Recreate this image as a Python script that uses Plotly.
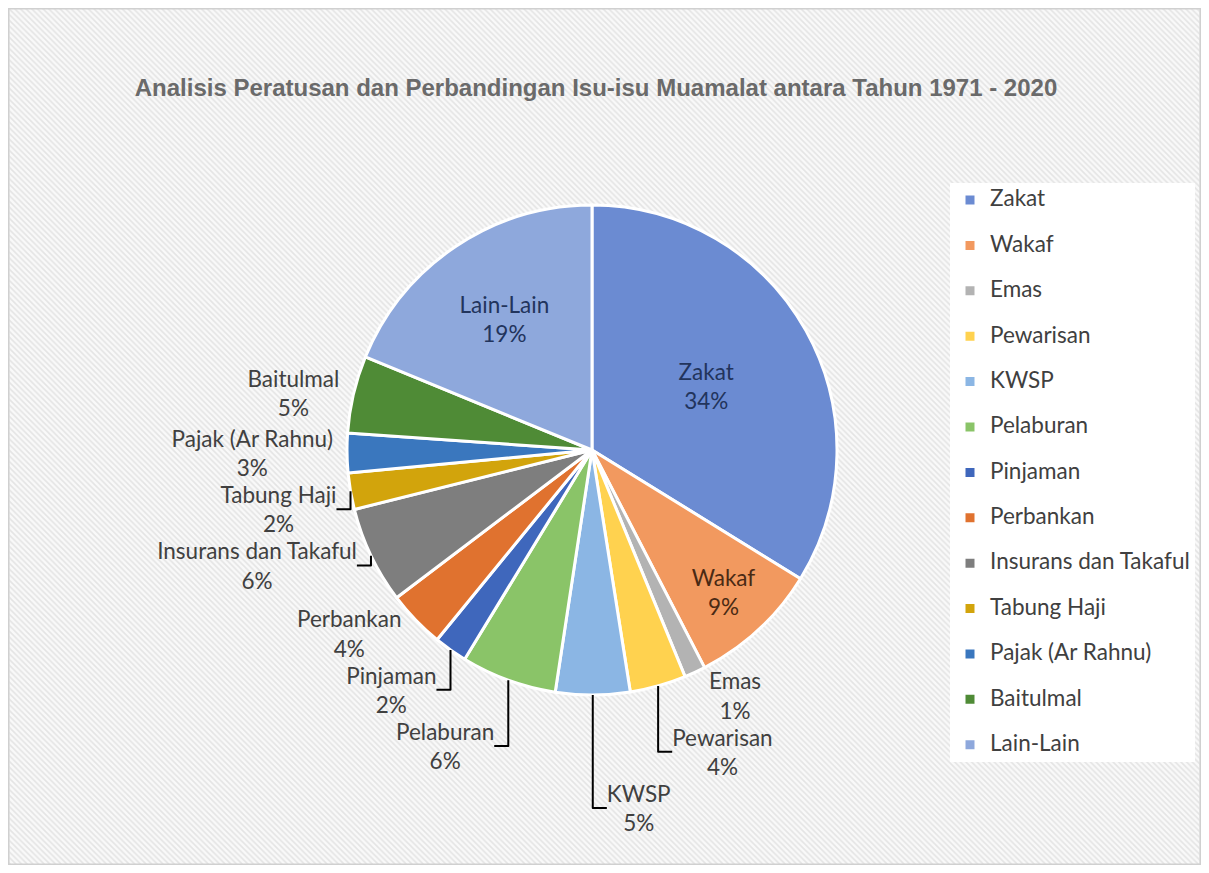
import plotly.graph_objects as go

categories = ["Zakat", "Wakaf", "Emas", "Pewarisan", "KWSP", "Pelaburan", "Pinjaman",
              "Perbankan", "Insurans dan Takaful", "Tabung Haji", "Pajak (Ar Rahnu)",
              "Baitulmal", "Lain-Lain"]
values = [33.8, 8.6, 1.4, 3.7, 4.9, 6.3, 2.2, 3.8, 6.4, 2.4, 2.6, 5.1, 18.8]
colors = ["#6B8BD2", "#F2995F", "#B3B3B3", "#FFD24F", "#8BB6E4", "#8AC468", "#3F67BC",
          "#E0722F", "#7E7E7E", "#D2A40C", "#3A77BE", "#4F8B36", "#8EA8DC"]
text_pos = ["inside", "inside", "outside", "outside", "outside", "outside", "outside",
            "outside", "outside", "outside", "outside", "outside", "inside"]
text_colors = ["#22345C", "#4A2A14", "#404040", "#404040", "#404040", "#404040", "#404040",
               "#404040", "#404040", "#404040", "#404040", "#404040", "#22345C"]

# figure size (page has an 8px body margin)
W, H = 1193, 857
OFF = 8
FONT = "Lato, Carlito, 'Open Sans', sans-serif"


def px(xp):
    return (xp - OFF) / W


def py(yp):
    return 1 - (yp - OFF) / H


legend_labels = ["<span style='font-size:22.5px'>%s</span>" % c + ("<br> " if i < len(categories) - 1 else "")
                 for i, c in enumerate(categories)]

fig = go.Figure()

# hatched background
fig.add_trace(go.Scatter(
    x=[0, 1, 1, 0, 0], y=[0, 0, 1, 1, 0], mode="lines", fill="toself",
    line=dict(width=0), fillcolor="#f4f4f4",
    fillpattern=dict(shape="\\", size=4, solidity=0.4, fgcolor="#cfcfcf", bgcolor="#f9f9f9"),
    hoverinfo="skip", showlegend=False))

cx, cy, R = 592, 450, 245
fig.add_trace(go.Pie(
    labels=legend_labels, values=values, text=categories,
    texttemplate="%{text}<br>%{percent:.0%}",
    textposition=text_pos, insidetextorientation="horizontal",
    textfont=dict(family=FONT, size=22.5, color=text_colors),
    marker=dict(colors=colors, line=dict(color="white", width=3)),
    sort=False, direction="clockwise", rotation=0,
    domain=dict(x=[px(cx - R), px(cx + R)], y=[py(cy + R), py(cy - R)]),
    hovertemplate="%{text}: %{percent}<extra></extra>",
))

fig.update_layout(
    width=W, height=H,
    margin=dict(l=0, r=0, t=0, b=0),
    paper_bgcolor="white", plot_bgcolor="rgba(0,0,0,0)",
    xaxis=dict(visible=False, range=[0, 1], domain=[0.001, 0.999], fixedrange=True),
    yaxis=dict(visible=False, range=[0, 1], domain=[0.001, 0.999], fixedrange=True),
    title=dict(text="<b>Analisis Peratusan dan Perbandingan Isu-isu Muamalat antara Tahun 1971 - 2020</b>",
               x=px(596), xanchor="center", y=py(88), yanchor="middle",
               font=dict(family="'Liberation Sans Narrow', 'Arial Narrow', 'Liberation Sans', Arial, sans-serif",
                         size=24, color="#6A6A6A")),
    legend=dict(x=px(950), y=py(183), xanchor="left", yanchor="top",
                bgcolor="white", font=dict(family=FONT, size=16.3, color="#404040"),
                valign="top", itemclick=False, itemdoubleclick=False),
    shapes=[dict(type="rect", xref="paper", yref="paper",
                 x0=0.0005, x1=0.9995, y0=0.0005, y1=0.9995,
                 line=dict(color="#D0D0D0", width=2), fillcolor="rgba(0,0,0,0)")],
)

fig.write_html("out.html")
